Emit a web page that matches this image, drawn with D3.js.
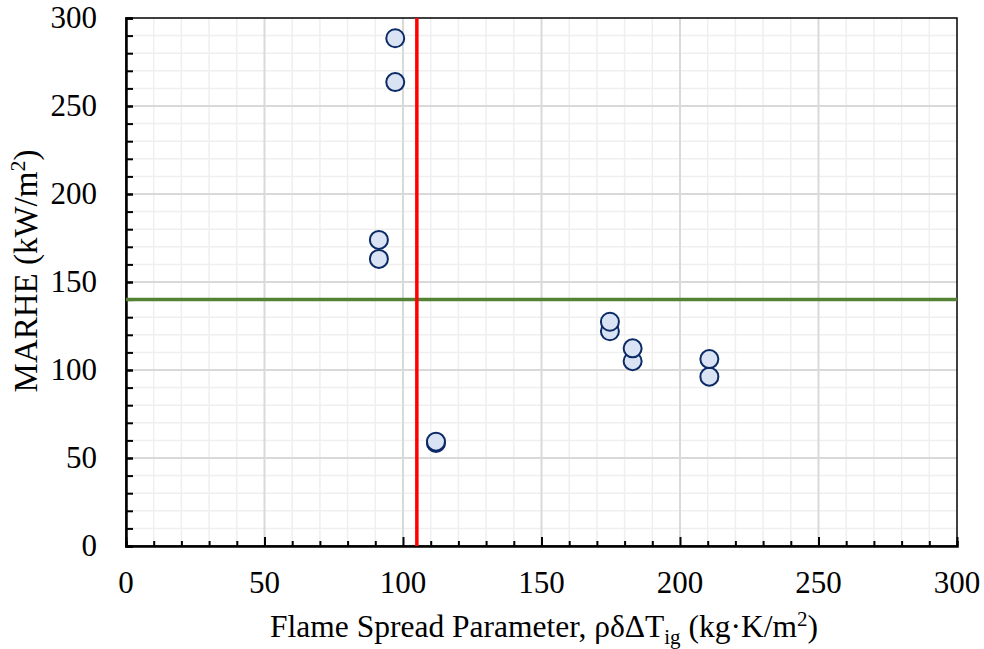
<html>
<head>
<style>
  body { margin: 0; background: #fff; }
</style>
</head>
<body>
<svg id="chart" width="984" height="649" font-family="'Liberation Serif', 'Times New Roman', Times, serif"></svg>
<script src="https://cdn.jsdelivr.net/npm/d3@7"></script>
<script>
// measured points (flame spread parameter vs MARHE)
const fsp   = [97.2, 97.2, 91.3, 91.3, 111.9, 111.9, 174.7, 174.7, 182.9, 182.9, 210.6, 210.6]
const marhe = [288.5, 263.6, 173.9, 163.1, 58.5, 59.3, 122, 127.4, 105, 112.3, 96.2, 106.2]
const xTicks = [0, 50, 100, 150, 200, 250, 300]
const yTicks = [0, 50, 100, 150, 200, 250, 300]
const redLineX = 105     // vertical threshold
const greenLineY = 140   // horizontal threshold

let svg = d3.select("#chart")
let pLeft = 126, pRight = 957, pTop = 18, pBottom = 546

let x = d3.scaleLinear().domain([0, 300]).range([pLeft, pRight])
let y = d3.scaleLinear().domain([0, 300]).range([pBottom, pTop])

let minor = d3.range(0, 301, 10)

// grid: light minor lines then darker major ones
let grid = svg.append("g")
grid.selectAll(".mx").data(minor.filter(d => d % 50 != 0)).enter().append("line")
    .attr("x1", d => x(d)).attr("x2", d => x(d)).attr("y1", pTop).attr("y2", pBottom)
    .attr("stroke", "#efefef").attr("stroke-width", 1.5)
grid.selectAll(".my").data(minor.filter(d => d % 50 != 0)).enter().append("line")
    .attr("y1", d => y(d)).attr("y2", d => y(d)).attr("x1", pLeft).attr("x2", pRight)
    .attr("stroke", "#efefef").attr("stroke-width", 1.5)
grid.selectAll(".Mx").data(xTicks.slice(1, -1)).enter().append("line")
    .attr("x1", d => x(d)).attr("x2", d => x(d)).attr("y1", pTop).attr("y2", pBottom)
    .attr("stroke", "#d9d9d9").attr("stroke-width", 2)
grid.selectAll(".My").data(yTicks.slice(1, -1)).enter().append("line")
    .attr("y1", d => y(d)).attr("y2", d => y(d)).attr("x1", pLeft).attr("x2", pRight)
    .attr("stroke", "#d9d9d9").attr("stroke-width", 2)

// box
svg.append("rect").attr("x", pLeft).attr("y", pTop).attr("width", pRight - pLeft).attr("height", pBottom - pTop)
    .attr("fill", "none").attr("stroke", "#000").attr("stroke-width", 1.5)

// axes with inward ticks
let xAxis = svg.append("g").attr("transform", `translate(0,${pBottom})`)
    .call(d3.axisBottom(x).tickValues(minor).tickSize(-5).tickFormat(""))
xAxis.select(".domain").attr("stroke-width", 2.5)
xAxis.selectAll(".tick line").attr("stroke-width", 2)
    .attr("y2", d => d % 50 == 0 ? -9 : -5)

let yAxis = svg.append("g").attr("transform", `translate(${pLeft},0)`)
    .call(d3.axisLeft(y).tickValues(minor).tickSize(-7).tickFormat(""))
yAxis.select(".domain").attr("stroke-width", 2.5)
yAxis.selectAll(".tick line").attr("stroke-width", d => d % 50 == 0 ? 2.5 : 2)

// tick labels
svg.selectAll(".xl").data(xTicks).enter().append("text")
    .attr("x", d => x(d)).attr("y", 593).attr("text-anchor", "middle")
    .attr("font-size", 31).text(d => d)
svg.selectAll(".yl").data(yTicks).enter().append("text")
    .attr("x", 97).attr("y", d => y(d) + 10).attr("text-anchor", "end")
    .attr("font-size", 31).text(d => d)

// threshold lines
svg.append("line").attr("x1", pLeft).attr("x2", pRight)
    .attr("y1", y(greenLineY)).attr("y2", y(greenLineY))
    .attr("stroke", "#548235").attr("stroke-width", 3.5)
svg.append("line").attr("x1", x(redLineX)).attr("x2", x(redLineX))
    .attr("y1", pTop).attr("y2", pBottom)
    .attr("stroke", "#ff0000").attr("stroke-width", 3.5)

// points
svg.selectAll(".pt").data(fsp).enter().append("circle")
    .attr("cx", d => x(d)).attr("cy", (d, i) => y(marhe[i])).attr("r", 9)
    .attr("fill", "#dae3f3").attr("stroke", "#0b2a66").attr("stroke-width", 2)

// axis titles
let xt = svg.append("text").attr("x", 544).attr("y", 637).attr("text-anchor", "middle").attr("font-size", 31.5)
xt.append("tspan").text("Flame Spread Parameter, ρδΔT")
xt.append("tspan").attr("font-size", 21).attr("dy", 7).text("ig")
xt.append("tspan").attr("dy", -7).text(" (kg·K/m")
xt.append("tspan").attr("font-size", 21).attr("dy", -11).text("2")
xt.append("tspan").attr("dy", 11).text(")")

let yt = svg.append("text").attr("transform", "translate(37,271) rotate(-90)")
    .attr("text-anchor", "middle").attr("font-size", 33)
yt.append("tspan").text("MARHE (kW/m")
yt.append("tspan").attr("font-size", 22).attr("dy", -12).text("2")
yt.append("tspan").attr("dy", 12).text(")")
</script>
</body>
</html>
